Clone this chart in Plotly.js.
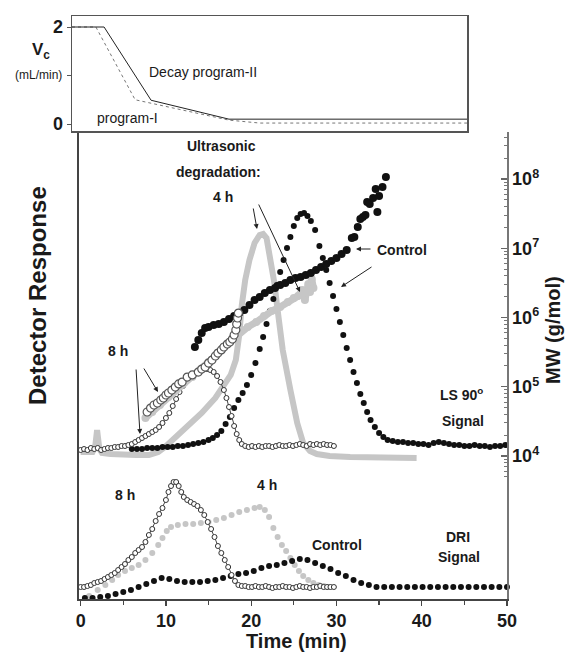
<!DOCTYPE html>
<html><head><meta charset="utf-8">
<script src="https://cdn.plot.ly/plotly-3.0.1.min.js"></script>
<style>html,body{margin:0;padding:0;background:#fff}#chart{width:568px;height:653px}</style>
</head><body><div id="chart"></div>
<script>
// ---------- decay programs (top panel) ----------
const decayTimeII = [-1.0, 2.76, 8.27, 17.4, 45.3];
const decayFlowII = [2, 2, 0.49, 0.1, 0.1];
const decayTimeI  = [-1.0, 1.8, 6.4, 17.4, 21.0, 45.3];
const decayFlowI  = [2, 2, 0.5, 0.08, 0.02, 0.02];

// ---------- LS 90 signals (arbitrary detector units) ----------
const lsControlTime = [6.0,6.6,7.2,7.8,8.4,9.0,9.6,10.2,10.8,11.4,12.0,12.6,13.2,13.8,14.4,15.0,15.5,16.0,16.5,17.0,17.5,18.0,18.5,19.0,19.5,20.0,20.5,21.0,21.4,21.8,22.2,22.6,23.0,23.4,23.8,24.2,24.6,25.0,25.4,25.8,26.2,26.6,27.0,27.5,28.0,28.4,28.8,29.2,29.6,30.0,30.4,30.8,31.2,31.6,32.0,32.4,32.8,33.2,33.6,34.0,34.5,35.0,35.5,36.0,36.6,37.2,37.8,38.4,39.0,39.6,40.2,40.8,41.4,42.0,42.6,43.2,43.8,44.4,45.0,45.6,46.2,46.8,47.4,48.0,48.6,49.2,49.8];
const lsControl     = [150,150,150,151,151,151,152,152,152,153,153,154,155,156,157,159,161,164,168,175,182,191,199,206,214,224,236,250,262,275,288,300,314,327,339,351,362,373,381,385,386,383,378,369,353,341,329,316,303,290,277,264,251,239,227,216,205,196,187,179,172,166,162,159,158,157,157,156,156,155,155,154,156,157,156,155,154,154,153,153,154,153,153,152,153,153,154];

const ls4hTime = [0.0,1.4,1.7,1.93,2.2,2.5,3.5,5.0,6.5,8.0,9.1,9.9,11.2,12.6,14.2,15.8,16.9,17.6,18.2,18.6,18.9,19.3,19.8,20.4,21.0,21.4,21.8,22.2,22.7,23.1,23.7,24.6,25.4,26.1,26.9,27.7,29.2,31.6,35.1,39.4];
const ls4h     = [147,147,152,169,150,146,145,144,144,144,147,152,162,172,186,201,214,224,239,264,294,319,339,356,364,365,361,344,317,289,249,209,176,156,148,145,143,142,142,141];

const ls8hTime = [0.0,0.4,0.8,1.2,1.6,2.0,2.4,2.8,3.2,3.6,4.0,4.4,4.8,5.2,5.6,6.0,6.4,6.8,7.2,7.6,8.0,8.4,8.8,9.2,9.6,10.0,10.4,10.8,11.2,11.6,12.0,12.4,12.8,13.2,13.6,14.0,14.4,14.8,15.2,15.6,16.0,16.4,16.8,17.1,17.4,17.7,18.0,18.3,18.6,18.9,19.3,19.7,20.1,20.5,20.9,21.3,21.7,22.1,22.5,22.9,23.3,23.7,24.1,24.5,24.9,25.3,25.7,26.1,26.5,26.9,27.3,27.7,28.1,28.5,28.9,29.3,29.7];
const ls8h     = [149,150,149,151,150,151,149,150,151,151,152,152,153,153,154,155,157,159,161,163,165,167,169,172,176,181,186,193,200,207,213,218,222,224,226,228,230,230,229,227,223,217,209,201,192,183,173,165,159,155,153,152,153,152,153,152,153,153,152,153,154,153,153,154,153,154,155,154,153,155,154,155,154,155,154,154,153];

// ---------- molar mass (g/mol, right axis) ----------
const mwControlTime = [13.4,13.8,14.2,14.6,15.0,15.6,16.2,16.8,17.4,18.0,18.6,19.2,19.8,20.4,21.0,21.6,22.2,22.8,23.4,24.0,24.6,25.2,25.8,26.4,27.0,27.6,28.2,28.8,29.4,30.0,30.6,31.2,31.8,32.1,32.5,32.8,33.1,33.4,33.6,33.9,34.3,34.6,34.8,35.0,35.4,35.8];
const mwControl     = [3.75e5,4.73e5,5.97e5,7.05e5,7.29e5,7.80e5,8.05e5,8.61e5,9.51e5,1.05e6,1.16e6,1.28e6,1.52e6,1.79e6,1.98e6,2.26e6,2.49e6,2.67e6,2.95e6,3.15e6,3.48e6,3.72e6,3.85e6,4.11e6,4.39e6,4.85e6,5.36e6,5.93e6,6.55e6,7.23e6,8.26e6,9.44e6,1.41e7,1.45e7,2.03e7,2.64e7,2.83e7,3.02e7,4.66e7,4.36e7,5.32e7,7.18e7,3.34e7,5.69e7,7.66e7,1.07e8];

const mw4hTime = [7.6,8.4,9.3,10.3,11.2,12.1,13.1,14.0,15.0,15.9,16.8,17.8,18.7,19.6,20.6,21.5,22.4,23.4,24.3,25.0,25.5,26.0,26.3,26.7,26.9,27.1,27.3];
const mw4h     = [3.54e4,4.32e4,5.45e4,7.11e4,8.97e4,1.13e5,1.38e5,1.75e5,2.28e5,2.87e5,3.75e5,4.89e5,6.18e5,7.29e5,8.61e5,1.05e6,1.24e6,1.42e6,1.67e6,1.91e6,2.04e6,2.49e6,1.79e6,3.05e6,2.33e6,3.60e6,2.67e6];

const mw8hTime = [7.8,8.2,8.6,9.0,9.4,9.7,10.0,10.3,10.7,11.1,11.5,11.9,12.5,13.1,13.8,14.2,14.6,15.0,15.4,15.8,16.1,16.5,16.8,17.2,17.5,17.8,18.0,18.2,18.3,18.4,18.5];
const mw8h     = [4.32e4,4.93e4,5.45e4,5.83e4,6.44e4,6.88e4,7.60e4,8.13e4,8.97e4,9.91e4,1.10e5,1.17e5,1.38e5,1.48e5,1.63e5,1.80e5,1.93e5,2.20e5,2.43e5,2.78e5,3.07e5,3.40e5,3.75e5,4.14e5,4.43e5,4.89e5,5.59e5,6.60e5,8.05e5,9.84e5,1.16e6];

// ---------- DRI signals (arbitrary detector units) ----------
const driControlTime = [0.5,1.4,2.3,3.2,4.1,5.0,5.9,6.8,7.7,8.6,9.5,10.4,11.3,12.2,13.1,14.0,14.9,15.8,16.7,17.6,18.5,19.4,20.3,21.2,22.1,23.0,23.9,24.8,25.7,26.6,27.5,28.4,29.3,30.2,31.1,32.0,32.9,33.8,34.7,35.6,36.5,37.4,38.3,39.2,40.1,41.0,41.9,42.8,43.7,44.6,45.5,46.4,47.3,48.2,49.1,50.0];
const driControl     = [1,1,2,3,5,7,9,12,15,18,21,20,18,17,17,17,18,19,21,23,25,26,28,31,33,34,36,38,40,39,36,33,30,26,23,19,16,14,12,12,12,12,12,12,12,12,12,12,12,12,12,12,12,12,12,12];

const dri4hTime = [1.0,2.0,2.9,3.7,4.4,5.2,6.0,6.8,7.6,8.4,9.1,9.6,10.1,10.6,11.4,12.3,13.2,14.1,15.0,15.9,16.8,17.7,18.6,19.5,20.4,21.0,21.6,22.1,22.6,23.1,23.6,24.1,24.6,25.1,25.6,26.1,26.7,27.3,27.9,28.5,29.1];
const dri4h     = [3,9,14,19,24,28,31,34,39,46,54,61,68,72,74,75,75,76,77,79,81,84,87,89,91,92,89,82,71,62,54,48,41,34,28,23,19,16,14,13,12];

const dri8hTime = [0.0,0.4,0.8,1.2,1.6,2.0,2.4,2.8,3.2,3.6,4.0,4.4,4.8,5.2,5.6,6.0,6.4,6.8,7.2,7.6,8.0,8.4,8.8,9.2,9.6,10.0,10.3,10.6,10.9,11.2,11.5,11.8,12.1,12.5,12.9,13.3,13.7,14.1,14.5,14.9,15.3,15.7,16.1,16.5,16.9,17.3,17.7,18.1,18.5,18.9,19.3,19.7,20.1,20.5,20.9,21.3,21.7,22.1,22.5,22.9,23.3,23.7,24.1,24.5,24.9,25.3,25.7,26.1,26.5,26.9,27.3,27.7,28.1,28.5,28.9,29.3,29.7];
const dri8h     = [12,12,13,14,16,17,18,20,22,24,26,29,32,35,39,42,46,49,52,57,64,70,78,85,91,99,107,113,117,117,113,107,102,99,97,95,93,89,84,77,70,62,53,46,39,32,24,18,14,13,13,12,12,13,12,12,13,12,11,12,12,13,12,12,11,12,13,12,12,11,12,12,13,12,12,12,12];

// ---------- tick labels ----------
const timeTicks = [0, 10, 20, 30, 40, 50];
const flowTickVals = [0, 1, 2];
const flowTickText = ['0', '', '2'];
const mwTickVals = [1e4, 1e5, 1e6, 1e7, 1e8];
const mwTickText = ['10<sup>4</sup>', '10<sup>5</sup>', '10<sup>6</sup>', '10<sup>7</sup>', '10<sup>8</sup>'];

// ---------- layout helpers ----------
const W = 568, H = 653;
const PX = x => x / W;
const PY = y => 1 - y / H;
const FONT = 'Liberation Sans, Arial, Helvetica, sans-serif';
const GRAY = '#c6c6c6';

const minorMW = [];
for (let d = 3; d <= 8; d++) for (let k = 2; k <= 9; k++) {
  const v = k * Math.pow(10, d);
  if (v >= 5e3 && v <= 4.5e8) minorMW.push(v);
}

const traces = [
  // top panel
  {x: decayTimeI, y: decayFlowI, xaxis: 'x2', yaxis: 'y3', mode: 'lines',
   line: {color: '#777', width: 1, dash: 'dot'}, hoverinfo: 'skip'},
  {x: decayTimeII, y: decayFlowII, xaxis: 'x2', yaxis: 'y3', mode: 'lines',
   line: {color: '#222', width: 1}, hoverinfo: 'skip'},
  // gray 4 h
  {x: ls4hTime, y: ls4h, xaxis: 'x', yaxis: 'y', mode: 'lines',
   line: {color: GRAY, width: 6, shape: 'linear'}, cliponaxis: false},
  {x: mw4hTime, y: mw4h, xaxis: 'x', yaxis: 'y2', mode: 'lines+markers',
   line: {color: GRAY, width: 7}, marker: {color: GRAY, size: 8}},
  {x: dri4hTime, y: dri4h, xaxis: 'x', yaxis: 'y', mode: 'markers',
   marker: {color: GRAY, size: 6}, cliponaxis: false},
  // control
  {x: lsControlTime, y: lsControl, xaxis: 'x', yaxis: 'y', mode: 'markers',
   marker: {color: '#111', size: 6}},
  {x: driControlTime, y: driControl, xaxis: 'x', yaxis: 'y', mode: 'markers',
   marker: {color: '#111', size: 6}, cliponaxis: false},
  {x: mwControlTime, y: mwControl, xaxis: 'x', yaxis: 'y2', mode: 'markers',
   marker: {color: '#111', size: 8}},
  // 8 h
  {x: ls8hTime, y: ls8h, xaxis: 'x', yaxis: 'y', mode: 'lines+markers',
   line: {color: '#444', width: 1},
   marker: {color: '#fff', size: 5, line: {color: '#333', width: 1}}, cliponaxis: false},
  {x: dri8hTime, y: dri8h, xaxis: 'x', yaxis: 'y', mode: 'lines+markers',
   line: {color: '#444', width: 1},
   marker: {color: '#fff', size: 5, line: {color: '#333', width: 1}}, cliponaxis: false},
  {x: mw8hTime, y: mw8h, xaxis: 'x', yaxis: 'y2', mode: 'lines+markers',
   line: {color: '#666', width: 1},
   marker: {color: '#fff', size: 8, line: {color: '#555', width: 1.2}}}
];

function txt(text, x, y, size, bold, extra) {
  return Object.assign({
    text: text, xref: 'paper', yref: 'paper', x: PX(x), y: PY(y),
    xanchor: 'center', yanchor: 'middle', showarrow: false,
    font: {family: FONT, size: size, color: '#1a1a1a', weight: bold ? 'bold' : 'normal'}
  }, extra || {});
}
function arrow(hx, hy, tx, ty) {
  return {
    text: '', xref: 'paper', yref: 'paper', x: PX(hx), y: PY(hy),
    ax: tx - hx, ay: ty - hy, showarrow: true, arrowhead: 2, arrowsize: 1,
    arrowwidth: 1, arrowcolor: '#222', standoff: 0, startstandoff: 0
  };
}

const annotations = [
  txt('Ultrasonic', 221, 146, 14, true),
  txt('degradation:', 218, 172, 14, true),
  txt('4 h', 223, 197, 14, true),
  txt('Control', 402, 250, 14, true),
  txt('8 h', 118, 351, 14, true),
  txt('LS 90<sup>o</sup>', 461, 394, 14, true),
  txt('Signal', 463, 421, 14, true),
  txt('8 h', 125, 495, 14, true),
  txt('4 h', 267, 485, 14, true),
  txt('Control', 337, 545, 14, true),
  txt('DRI', 458, 537, 14, true),
  txt('Signal', 459, 557, 14, true),
  txt('Decay program-II', 203, 72, 14, false),
  txt('program-I', 127, 118, 14, false),
  txt('V<sub>c</sub>', 41, 51, 17, true),
  txt('(mL/min)', 38, 75, 12, false),
  txt('Detector Response', 37, 296, 24, true, {textangle: -90}),
  txt('MW (g/mol)', 553, 330, 20, true, {textangle: -90}),
  txt('Time (min)', 296, 641, 20, true),
  arrow(257, 229, 253, 207),
  arrow(300, 292, 258, 203),
  arrow(356, 249, 372, 249),
  arrow(341, 287, 373, 266),
  arrow(158, 392, 143, 367),
  arrow(140, 434, 136, 368)
];

const tickFont = {family: FONT, size: 18, color: '#1a1a1a', weight: 'bold'};

const layout = {
  width: W, height: H,
  margin: {l: 0, r: 0, t: 0, b: 0},
  paper_bgcolor: '#fff', plot_bgcolor: 'rgba(0,0,0,0)',
  showlegend: false,
  font: {family: FONT},
  xaxis: {
    domain: [PX(78.5), PX(507)], range: [-0.25, 50], anchor: 'y',
    showline: true, linecolor: '#444', linewidth: 1.5, zeroline: false, showgrid: false,
    ticks: 'outside', ticklen: 5, tickwidth: 1.2, tickcolor: '#444',
    tickmode: 'array', tickvals: timeTicks, tickfont: tickFont,
    minor: {tickmode: 'array', tickvals: [5, 15, 25, 35, 45], ticks: 'outside', ticklen: 4, tickcolor: '#444', tickwidth: 1.2}
  },
  yaxis: {
    domain: [PY(599), PY(132)], range: [0, 467], anchor: 'x',
    showline: true, linecolor: '#444', linewidth: 1.5, zeroline: false, showgrid: false,
    ticks: '', showticklabels: false
  },
  yaxis2: {
    overlaying: 'y', side: 'right', anchor: 'x', type: 'log',
    range: [1.935, 8.679],
    showline: true, linecolor: '#777', linewidth: 1.5, zeroline: false, showgrid: false,
    ticks: 'inside', ticklen: 6, tickwidth: 1.2, tickcolor: '#666',
    tickmode: 'array', tickvals: mwTickVals, ticktext: mwTickText, tickfont: tickFont,
    minor: {tickmode: 'array', tickvals: minorMW, ticks: 'inside', ticklen: 3, tickcolor: '#777', tickwidth: 1}
  },
  xaxis2: {
    domain: [PX(72), PX(467)], range: [-1.0, 45.3], anchor: 'y3',
    showline: true, mirror: true, linecolor: '#555', linewidth: 1.5,
    zeroline: false, showgrid: false, ticks: '', showticklabels: false
  },
  yaxis3: {
    domain: [PY(131), PY(16)], range: [-0.144, 2.227], anchor: 'x2',
    showline: true, mirror: true, linecolor: '#555', linewidth: 1.5,
    zeroline: false, showgrid: false,
    ticks: 'outside', ticklen: 4, tickcolor: '#555',
    tickmode: 'array', tickvals: flowTickVals, ticktext: flowTickText, tickfont: tickFont
  },
  annotations: annotations
};

Plotly.newPlot('chart', traces, layout, {staticPlot: true, displayModeBar: false});
</script></body></html>
